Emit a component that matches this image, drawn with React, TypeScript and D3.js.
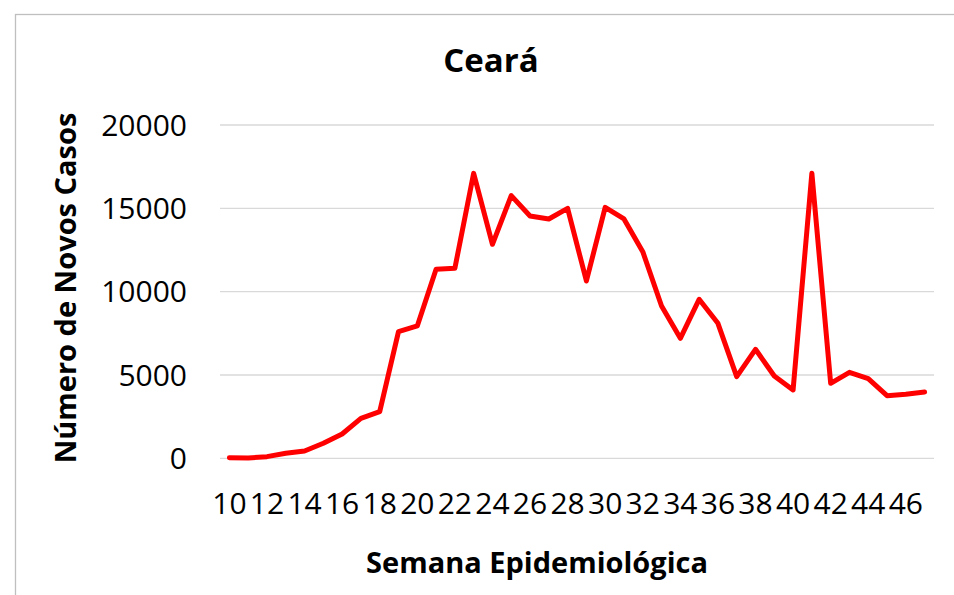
import { useRef, useEffect } from "react";
import * as d3 from "d3";

const weeks = [
  10, 11, 12, 13, 14, 15, 16, 17, 18, 19, 20, 21, 22, 23, 24, 25, 26, 27, 28,
  29, 30, 31, 32, 33, 34, 35, 36, 37, 38, 39, 40, 41, 42, 43, 44, 45, 46, 47,
];
const novosCasos = [
  30, 20, 100, 300, 440, 900, 1460, 2400, 2800, 7600, 7940, 11340, 11400,
  17100, 12840, 15760, 14540, 14360, 15000, 10640, 15060, 14360, 12400, 9140,
  7200, 9540, 8100, 4900, 6540, 4940, 4100, 17100, 4500, 5160, 4780, 3760,
  3840, 3980,
];
const yTicks = [0, 5000, 10000, 15000, 20000];

const title = "Ceará";
const xTitle = "Semana Epidemiológica";
const yTitle = "Número de Novos Casos";

export default function App() {
  const svgRef = useRef<SVGSVGElement>(null);

  useEffect(() => {
    const width = 954;
    const height = 595;
    const plot = { left: 220, right: 934, top: 125, bottom: 458.3 };
    const font = "'Open Sans', sans-serif";

    const svg = d3.select(svgRef.current).attr("width", width).attr("height", height);
    svg.selectAll("*").remove();

    // chart area border
    svg
      .append("rect")
      .attr("x", 15.5)
      .attr("y", 14.5)
      .attr("width", 960)
      .attr("height", 600)
      .attr("fill", "white")
      .attr("stroke", "#bfbfbf")
      .attr("stroke-width", 1.3);

    const x = d3.scaleBand<number>().domain(weeks).range([plot.left, plot.right]);
    const y = d3.scaleLinear().domain([0, 20000]).range([plot.bottom, plot.top]);
    const cx = (w: number) => (x(w) ?? 0) + x.bandwidth() / 2;

    // gridlines
    svg
      .append("g")
      .selectAll("line")
      .data(yTicks)
      .join("line")
      .attr("x1", plot.left)
      .attr("x2", plot.right)
      .attr("y1", (d) => y(d))
      .attr("y2", (d) => y(d))
      .attr("stroke", "#d9d9d9")
      .attr("stroke-width", 1.3);

    // y tick labels
    svg
      .append("g")
      .selectAll("text")
      .data(yTicks)
      .join("text")
      .attr("x", 187)
      .attr("y", (d) => y(d))
      .attr("dy", "0.36em")
      .attr("text-anchor", "end")
      .attr("font-family", font)
      .attr("font-size", 30)
      .attr("fill", "#000")
      .text((d) => d);

    // x tick labels (every other week)
    svg
      .append("g")
      .selectAll("text")
      .data(weeks.filter((w) => w % 2 === 0))
      .join("text")
      .attr("x", (d) => cx(d))
      .attr("y", 514)
      .attr("text-anchor", "middle")
      .attr("font-family", font)
      .attr("font-size", 30)
      .attr("fill", "#000")
      .text((d) => d);

    // line
    const line = d3
      .line<number>()
      .x((_, i) => cx(weeks[i]))
      .y((d) => y(d));

    svg
      .append("path")
      .datum(novosCasos)
      .attr("d", line)
      .attr("fill", "none")
      .attr("stroke", "#ff0000")
      .attr("stroke-width", 5)
      .attr("stroke-linejoin", "round")
      .attr("stroke-linecap", "round");

    // titles
    svg
      .append("text")
      .attr("x", 491)
      .attr("y", 72)
      .attr("text-anchor", "middle")
      .attr("font-family", font)
      .attr("font-weight", "bold")
      .attr("font-size", 33)
      .text(title);

    svg
      .append("text")
      .attr("x", 537)
      .attr("y", 573)
      .attr("text-anchor", "middle")
      .attr("font-family", font)
      .attr("font-weight", "bold")
      .attr("font-size", 29)
      .text(xTitle);

    svg
      .append("text")
      .attr("transform", `translate(76, 288) rotate(-90)`)
      .attr("text-anchor", "middle")
      .attr("font-family", font)
      .attr("font-weight", "bold")
      .attr("font-size", 29)
      .text(yTitle);
  }, []);

  return (
    <svg
      ref={svgRef}
      style={{ position: "absolute", left: 0, top: 0, display: "block" }}
    />
  );
}
